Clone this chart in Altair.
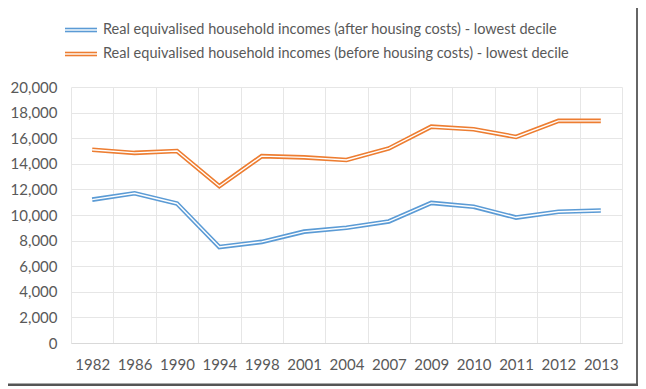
import altair as alt
import pandas as pd

years = ["1982", "1986", "1990", "1994", "1998", "2001", "2004", "2007",
         "2009", "2010", "2011", "2012", "2013"]
after_hc = [11200, 11700, 10900, 7500, 7900, 8700, 9000, 9500,
            10950, 10650, 9800, 10250, 10350]
before_hc = [15100, 14850, 15000, 12250, 14600, 14500, 14300, 15200,
             16900, 16700, 16100, 17350, 17350]
series_names = [
    "Real equivalised household incomes (after housing costs) - lowest decile",
    "Real equivalised household incomes (before housing costs) - lowest decile",
]
colors = ["#5B9BD5", "#ED7D31"]

FONT = "Lato"
GREY = "#595959"
OUTER_W = 4.6
INNER_W = 1.4

rows = []
for name, vals in zip(series_names, [after_hc, before_hc]):
    for y, v in zip(years, vals):
        rows.append({"year": y, "value": v, "series": name})
df = pd.DataFrame(rows)

x_enc = alt.X(
    "year:O",
    sort=years,
    bandPosition=0.5,
    scale=alt.Scale(type="band", paddingInner=0, paddingOuter=0),
    axis=alt.Axis(title=None, labelAngle=0, tickBand="extent", grid=True,
                  ticks=False, domainColor="#d9d9d9", labelPadding=14),
)
y_enc = alt.Y(
    "value:Q",
    scale=alt.Scale(domain=[0, 20000], nice=False),
    axis=alt.Axis(title=None, values=list(range(0, 20001, 2000)), format=",.0f",
                  domain=False, ticks=False, labelPadding=14),
)

outer = alt.Chart(df).mark_line(strokeWidth=OUTER_W).encode(
    x=x_enc, y=y_enc,
    color=alt.Color("series:N", scale=alt.Scale(domain=series_names, range=colors), legend=None),
)
inner = alt.Chart(df).mark_line(strokeWidth=INNER_W, color="white").encode(
    x=x_enc, y=y_enc, detail="series:N",
)

layers = [outer, inner]

leg_y = [-57, -33]
for i, name in enumerate(series_names):
    ldf = pd.DataFrame({"label": [name]})
    layers.append(alt.Chart(ldf).mark_rule(color=colors[i], strokeWidth=OUTER_W).encode(
        x=alt.value(-6), x2=alt.value(26), y=alt.value(leg_y[i])))
    layers.append(alt.Chart(ldf).mark_rule(color="white", strokeWidth=INNER_W).encode(
        x=alt.value(-6), x2=alt.value(26), y=alt.value(leg_y[i])))
    layers.append(alt.Chart(ldf).mark_text(align="left", baseline="middle", font=FONT,
                                           fontSize=14.5, color=GREY).encode(
        x=alt.value(32), y=alt.value(leg_y[i]), text="label:N"))

frame = pd.DataFrame({"k": [0]})
layers.append(alt.Chart(frame).mark_rule(color="#666666", strokeWidth=2).encode(
    x=alt.value(566), y=alt.value(-80), y2=alt.value(298)))
layers.append(alt.Chart(frame).mark_rule(color="#555555", strokeWidth=3).encode(
    x=alt.value(-66), x2=alt.value(567), y=alt.value(298)))

chart = alt.layer(*layers).properties(
    width=551, height=256,
    autosize=alt.AutoSizeParams(type="none"),
    padding={"left": 63, "top": 79, "right": 16, "bottom": 43},
).configure_view(stroke=None).configure_axis(
    labelFont=FONT, labelFontSize=15, labelColor=GREY, gridColor="#e6e6e6",
)

chart.save("out.html", embed_options={"renderer": "svg", "actions": False})
